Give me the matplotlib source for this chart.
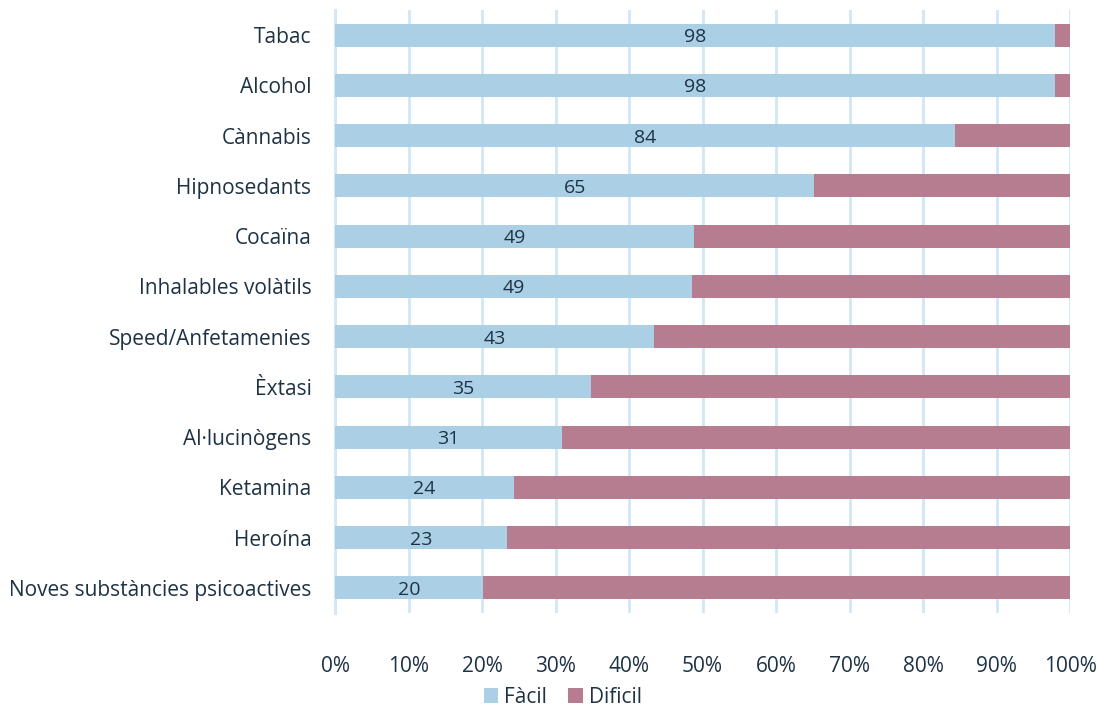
import numpy as np
import matplotlib.pyplot as plt

plt.rcParams['font.family'] = ['Open Sans', 'DejaVu Sans']

categories = ["Tabac", "Alcohol", "Cànnabis", "Hipnosedants", "Cocaïna",
              "Inhalables volàtils", "Speed/Anfetamenies", "Èxtasi",
              "Al·lucinògens", "Ketamina", "Heroína",
              "Noves substàncies psicoactives"]
facil = [98.0, 98.0, 84.3, 65.2, 48.8, 48.6, 43.4, 34.8, 30.9, 24.3, 23.4, 20.2]
dificil = [100 - v for v in facil]
ticks = [0, 10, 20, 30, 40, 50, 60, 70, 80, 90, 100]

text_col = "#1e3245"
blue = "#abd0e5"
mauve = "#b57d8f"
grid_col = "#d3e6f4"

fig = plt.figure(figsize=(11.03, 7.09), dpi=100)
ax = fig.add_axes([335/1103, 1 - 613/709, 735/1103, 603/709])

y = np.arange(len(categories))
ax.barh(y, facil, height=0.46, color=blue, label="Fàcil", zorder=3)
ax.barh(y, dificil, left=facil, height=0.46, color=mauve, label="Dificil", zorder=3)

for yi, v in zip(y, facil):
    ax.text(v / 2, yi, f"{v:.0f}", ha="center", va="center_baseline",
            fontsize=14, color=text_col, zorder=4)

ax.set_ylim(len(categories) - 0.5, -0.5)
ax.set_xlim(0, 100)
ax.set_yticks(y)
ax.set_yticklabels(categories, fontsize=15, color=text_col)
ax.set_xticks(ticks)
ax.set_xticklabels([f"{t}%" for t in ticks], fontsize=15, color=text_col)
ax.tick_params(length=0)
ax.tick_params(axis="y", pad=17)
ax.tick_params(axis="x", pad=31)
ax.grid(axis="x", color=grid_col, linewidth=2, zorder=0)
for s in ["top", "right", "bottom"]:
    ax.spines[s].set_visible(False)
ax.spines["left"].set_color(grid_col)
ax.spines["left"].set_linewidth(2)

ax.legend(loc="center", bbox_to_anchor=(0.31, -0.14), ncol=2, frameon=False,
          fontsize=15, labelcolor=text_col, handlelength=0.7, handleheight=0.7,
          handletextpad=0.3, columnspacing=1.0)

fig.savefig("out.png", dpi=100)
